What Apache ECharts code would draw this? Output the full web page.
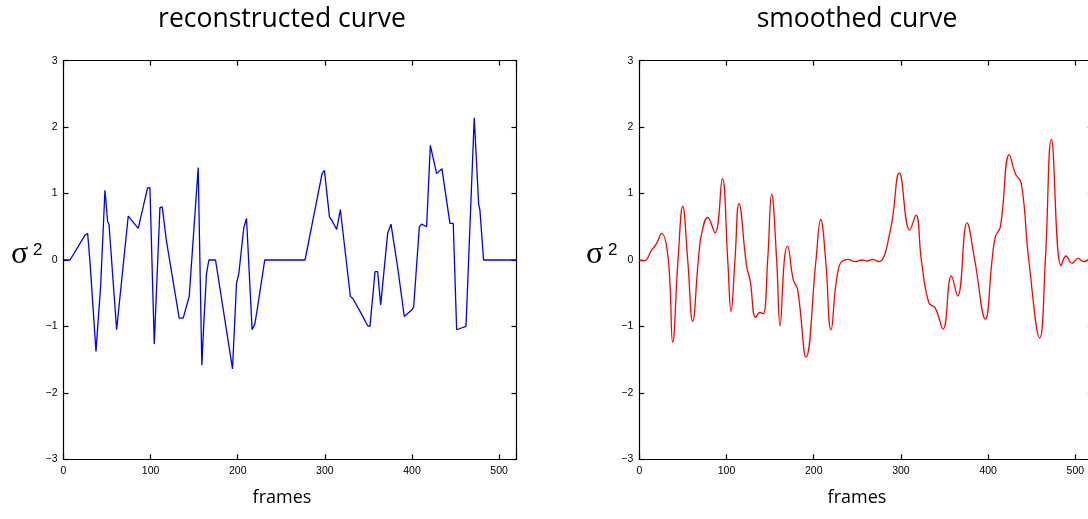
<!DOCTYPE html>
<html>
<head>
<meta charset="utf-8">
<script src="https://cdn.jsdelivr.net/npm/echarts@6/dist/echarts.min.js"></script>
<style>
  html, body { margin: 0; padding: 0; background: #fff; overflow: hidden; }
  #chart { width: 1100px; height: 519px; }
</style>
</head>
<body>
<div id="chart"></div>
<script>
// Frame index / sigma^2 samples of the reconstructed (piecewise) curve
const reconFrames = [0, 7.5, 24.7, 27.7, 30.4, 32.3, 37.3, 42.6, 44.5, 47.6, 50.7, 52.2, 61, 61.8, 74.3, 85.8, 96.5, 99.2,
  104.2, 110.7, 113.3, 118.3, 132.8, 137.4, 144.3, 145, 154.6, 155.7, 158.8, 161.1, 164.2, 166.9, 174.5, 194, 198.6, 201.3,
  207, 210.1, 212, 216.5, 219.6, 222.3, 231, 277.3, 296.8, 299.5, 305.3, 307.9, 313.6, 317.8, 329.3, 332, 341.5, 349.2,
  351.8, 357.6, 360.6, 364.1, 372.1, 375.9, 383.6, 385.5, 391.2, 400, 402, 408.5, 411.1, 416.8, 421.1, 428.3, 430.2,
  434.4, 443.6, 447.4, 451.3, 462, 471.5, 473.4, 476.5, 478, 482.2, 520];
const reconSigma = [0, 0, 0.375, 0.4, -0.03, -0.06, -1.375, -0.4, -0.385, 1.05, 0.575, 0.54, -1.05, -1.05, 0.66, 0.475, 1.085, 1.09,
  -1.265, 0.79, 0.8, 0.275, -0.875, -0.875, -0.55, -0.54, 1.39, 1.39, -1.585, -0.94, -0.2, 0, 0, -1.64, -0.35, -0.2,
  0.49, 0.625, 0.625, -1.05, -0.965, -0.75, 0, 0, 1.3, 1.35, 0.65, 0.6, 0.46, 0.76, -0.55, -0.575, -0.8, -0.99,
  -1.0, -0.175, -0.175, -0.675, 0.4, 0.54, -0.11, -0.125, -0.85, -0.75, -0.7, 0.5, 0.54, 0.5, 1.725, 1.3, 1.275,
  1.375, 0.55, 0.55, -1.05, -1.0, 2.14, 2.14, 0.85, 0.75, 0, 0];

// Frame index / sigma^2 samples of the smoothed curve
const smoothFrames = [0, 5.8, 14.2, 19.9, 25.6, 33.3, 38.3, 44.4, 49.8, 55.5, 61.2, 67.7, 71.5, 78.4, 86.8, 95.2, 101.4, 105.2,
  109.7, 114.3, 123.1, 127, 133.5, 138.4, 142.2, 147.2, 151.8, 157.5, 161.4, 166.3, 169.7, 176.6, 181.6, 191.2, 202.6, 208,
  213.7, 219.8, 229, 239.7, 247.4, 255.4, 261.1, 267.7, 274.5, 287.9, 298.2, 310.1, 317.3, 323.4, 331.9, 339.4, 348.3,
  357.8, 365.1, 375.8, 384.6, 396.8, 404.5, 408.3, 414, 424.3, 431.2, 438.1, 446.6, 459.2, 465.6, 472.5, 483.6, 489.3,
  496.2, 503.1, 509.6, 514.5, 520];
const smoothSigma = [0, -0.01, 0.15, 0.25, 0.4, 0, -1.24, 0, 0.81, 0, -0.925, 0, 0.4, 0.64, 0.41, 1.225, 0, -0.775,
  0, 0.85, -0.1, -0.3, -0.865, -0.79, -0.81, 0, 0.99, 0, -0.99, 0, 0.21, -0.3, -0.45, -1.46, 0, 0.61,
  0, -1.05, -0.1, 0.01, -0.025, 0, -0.015, 0.01, -0.025, 0.45, 1.31, 0.45, 0.675, 0, -0.64, -0.725, -1.04,
  -0.24, -0.54, 0.56, 0, -0.89, 0, 0.35, 0.5, 1.585, 1.3, 1.15, 0, -1.175, 0, 1.815, -0.09, 0.06,
  -0.05, 0.025, -0.025, 0, 0];

// Axis ticks
const frameTicks = [0, 100, 200, 300, 400, 500];
const sigmaTicks = [-3, -2, -1, 0, 1, 2, 3];

const panelTitles = ['reconstructed curve', 'smoothed curve'];
const xLabel = 'frames';

const pairs = (xs, ys) => xs.map((x, i) => [x, ys[i]]);
const minus = v => String(v).replace('-', '\u2212');

const tickFont = { fontFamily: 'Liberation Sans', fontSize: 10.5, color: '#000' };
const lineBlack = { lineStyle: { color: '#000', width: 1.2 } };

function xAxes(gridIndex) {
  return [
    {
      type: 'value', gridIndex, min: frameTicks[0], max: 520, interval: frameTicks[1] - frameTicks[0],
      axisLine: { onZero: false, ...lineBlack },
      axisTick: { inside: true, length: 5, ...lineBlack },
      axisLabel: { ...tickFont, margin: 6, formatter: v => (frameTicks.includes(v) ? minus(v) : '') },
      splitLine: { show: false }
    },
    {
      type: 'value', gridIndex, position: 'top', min: frameTicks[0], max: 520, interval: frameTicks[1] - frameTicks[0],
      axisLine: { onZero: false, ...lineBlack },
      axisTick: { inside: true, length: 5, ...lineBlack },
      axisLabel: { show: false }, splitLine: { show: false }
    }
  ];
}
function yAxes(gridIndex) {
  return [
    {
      type: 'value', gridIndex, min: sigmaTicks[0], max: sigmaTicks[sigmaTicks.length - 1], interval: 1,
      axisLine: { onZero: false, ...lineBlack },
      axisTick: { inside: true, length: 5, ...lineBlack },
      axisLabel: { ...tickFont, margin: 6, formatter: v => minus(v) },
      splitLine: { show: false }
    },
    {
      type: 'value', gridIndex, position: 'right', min: sigmaTicks[0], max: sigmaTicks[sigmaTicks.length - 1], interval: 1,
      axisLine: { onZero: false, ...lineBlack },
      axisTick: { inside: true, length: 5, ...lineBlack },
      axisLabel: { show: false }, splitLine: { show: false }
    }
  ];
}

const chart = echarts.init(document.getElementById('chart'), null, { renderer: 'canvas' });

const panelCenters = [282, 857];
const sigmaLabelX = [11, 586];

const texts = [];
panelTitles.forEach((t, i) => {
  texts.push({
    type: 'text', x: panelCenters[i], y: 6,
    style: { text: t, font: '26.5px "Open Sans"', fill: '#000', textAlign: 'center', textVerticalAlign: 'top' }
  });
  texts.push({
    type: 'text', x: panelCenters[i], y: 489,
    style: { text: xLabel, font: '18px "Open Sans"', fill: '#000', textAlign: 'center', textVerticalAlign: 'top' }
  });
  // sigma with superscript 2
  texts.push({
    type: 'text', x: sigmaLabelX[i], y: 255,
    style: { text: '\u03c3', font: '32px "Liberation Serif"', fill: '#000', textAlign: 'left', textVerticalAlign: 'middle' }
  });
  texts.push({
    type: 'text', x: sigmaLabelX[i] + 22, y: 250,
    style: { text: '2', font: '17px "Liberation Sans"', fill: '#000', textAlign: 'left', textVerticalAlign: 'middle' }
  });
});

chart.setOption({
  animation: false,
  backgroundColor: '#fff',
  grid: [
    { left: 63.5, top: 60.7, width: 453, height: 398.6 },
    { left: 639.3, top: 60.7, width: 453.5, height: 398.6 }
  ],
  xAxis: [...xAxes(0), ...xAxes(1)],
  yAxis: [...yAxes(0), ...yAxes(1)],
  series: [
    {
      type: 'line', xAxisIndex: 0, yAxisIndex: 0, data: pairs(reconFrames, reconSigma),
      showSymbol: false, lineStyle: { color: '#0000ff', width: 1.3 }, z: 3
    },
    {
      type: 'line', xAxisIndex: 2, yAxisIndex: 2, data: pairs(smoothFrames, smoothSigma),
      smooth: 0.45, showSymbol: false, lineStyle: { color: '#ff0000', width: 1.3 }, z: 3
    }
  ],
  graphic: texts
});
</script>
</body>
</html>
